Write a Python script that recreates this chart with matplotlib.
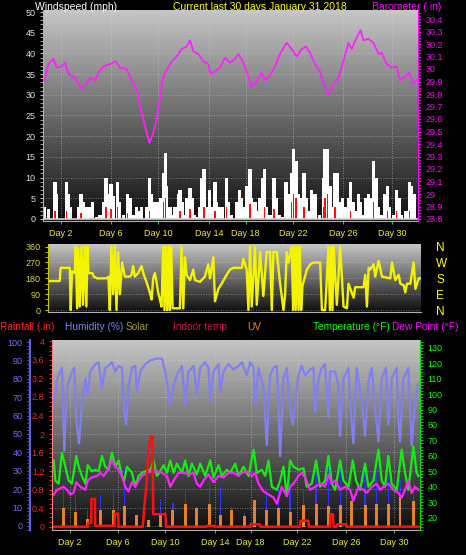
import numpy as np
import matplotlib
matplotlib.use("Agg")
import matplotlib.pyplot as plt
from matplotlib.colors import LinearSegmentedColormap
from matplotlib.ticker import MultipleLocator

plt.rcParams['font.family'] = ['Liberation Sans', 'DejaVu Sans']

# --------------------------------------------------
# data (time axis in days from the left edge of the chart)
# --------------------------------------------------

day_ticks = [1.45, 5.4, 9.2, 13.3, 16.2, 20.0, 24.0, 27.9]
day_labels = ["Day 2", "Day 6", "Day 10", "Day 14", "Day 18", "Day 22", "Day 26", "Day 30"]

baro_t = [0.11, 0.43, 0.83, 1.09, 1.49, 1.76, 2.03, 2.56, 3.09, 3.49, 3.76, 4.16, 4.43,
          4.83, 5.36, 5.84, 6.16, 6.69, 7.09, 7.49, 7.89, 8.51, 8.83, 9.09, 9.63, 9.89,
          10.29, 10.69, 11.09, 11.49, 11.76, 12.03, 12.43, 12.83, 13.23, 13.41, 13.76,
          14.16, 14.56, 14.96, 15.36, 15.63, 16.03, 16.43, 16.69, 17.09, 17.49, 17.76,
          18.16, 18.56, 18.96, 19.49, 19.89, 20.29, 20.69, 21.04, 21.36, 21.76, 22.16,
          22.56, 22.83, 23.23, 23.63, 24.03, 24.43, 24.69, 25.09, 25.41, 25.63, 26.03,
          26.43, 26.83, 27.09, 27.49, 27.89, 28.29, 28.56, 28.96, 29.31, 29.63, 29.89]
baro = [29.91, 30.04, 30.08, 30.01, 30.02, 30.05, 29.96, 29.93, 29.84, 29.88, 29.93, 29.91,
        29.97, 30.02, 30.04, 30.06, 30.01, 30.00, 29.91, 29.84, 29.65, 29.41, 29.49, 29.60,
        29.94, 29.99, 30.06, 30.10, 30.16, 30.18, 30.23, 30.14, 30.12, 30.06, 30.04, 29.96,
        29.98, 30.01, 30.09, 30.05, 30.08, 30.12, 30.05, 29.94, 29.86, 29.90, 29.97, 29.91,
        29.95, 30.02, 30.12, 30.21, 30.16, 30.10, 30.16, 30.18, 30.13, 30.04, 29.98, 29.86,
        29.79, 29.88, 29.93, 30.06, 30.21, 30.16, 30.25, 30.31, 30.23, 30.24, 30.21, 30.12,
        30.13, 30.04, 30.01, 30.02, 29.91, 29.94, 29.97, 29.88, 29.91]

gust_t = [0.11, 0.43, 0.96, 1.09, 1.49, 1.89, 2.03, 2.21, 2.83, 3.04, 3.23, 3.44, 3.63,
          3.76, 3.97, 4.29, 4.56, 4.83, 5.04, 5.23, 5.44, 5.63, 5.95, 6.11, 6.43, 6.77,
          6.96, 7.23, 7.49, 7.71, 7.89, 8.29, 8.51, 8.69, 8.96, 9.23, 9.44, 9.63, 9.79,
          9.89, 10.16, 10.43, 10.56, 10.83, 10.96, 11.17, 11.36, 11.49, 11.76, 11.97,
          12.11, 12.29, 12.51, 12.69, 12.88, 13.09, 13.31, 13.49, 13.76, 13.89, 14.11,
          14.37, 14.69, 14.83, 15.09, 15.49, 15.71, 15.89, 16.08, 16.29, 16.56, 16.69,
          16.96, 17.15, 17.36, 17.57, 17.71, 17.89, 18.16, 18.48, 18.69, 18.91, 19.17,
          19.44, 19.63, 19.89, 20.03, 20.24, 20.43, 20.69, 20.88, 21.04, 21.23, 21.49,
          21.76, 22.11, 22.43, 22.56, 22.77, 22.96, 23.23, 23.36, 23.55, 23.76, 23.97,
          24.16, 24.43, 24.61, 24.83, 25.04, 25.23, 25.41, 25.63, 25.84, 26.03, 26.21,
          26.43, 26.64, 26.83, 27.09, 27.36, 27.55, 27.71, 28.03, 28.29, 28.51, 28.69,
          29.04, 29.31, 29.49, 29.68]
gust = [3, 2.5, 9, 6, 0, 9, 6, 3, 3, 6, 4, 3, 2, 3, 4, 0.5, 1, 4, 10, 6, 8.5, 5.5, 9, 4, 1,
        6, 5, 1, 3, 2, 3, 3, 10, 6, 4, 4, 5, 11, 16, 8, 3, 1, 3, 6, 7, 4, 1, 5, 7.5, 5, 1,
        0.5, 3, 10, 12, 3, 7, 3, 9, 4, 3, 3, 10, 4, 1, 4, 7, 5, 3, 8, 12, 5, 4, 2, 5, 10, 12,
        3, 1, 10, 5, 1, 0.5, 9, 6, 11, 17, 14, 6, 5, 11, 5, 2, 7, 6, 1, 10, 17, 17, 8, 3, 11,
        11, 4, 5, 3, 5, 9, 4, 2, 6, 4, 1, 5, 6, 5, 14, 10, 3, 1, 6, 8, 3, 1, 7, 5, 1, 2, 9, 8, 6]

avg_t = [0.96, 1.89, 3.04, 5.04, 5.44, 5.95, 6.77, 8.51, 9.63, 9.79, 10.96, 11.76, 12.88,
         13.76, 14.69, 16.56, 17.71, 18.48, 19.89, 20.03, 20.24, 20.88, 22.43, 22.56,
         22.77, 23.36, 24.61, 26.43, 27.55, 28.29, 29.31]
avg = [2, 2, 1.5, 3, 2.5, 3, 1.5, 2, 4, 5, 2, 2.5, 3, 2, 3, 3.5, 3, 2.5, 4, 6, 5, 3, 3, 5,
       6, 3, 2, 4, 2, 2, 2]

dir_t = [0.13, 0.94, 1.02, 1.75, 1.83, 1.93, 2.15, 2.23, 2.34, 2.44, 2.55, 2.69, 2.82,
         2.95, 3.09, 3.17, 3.25, 3.57, 3.68, 3.95, 4.70, 4.86, 4.97, 5.10, 5.24, 5.37,
         5.51, 5.64, 5.78, 5.96, 6.18, 6.58, 6.72, 6.85, 6.98, 7.25, 7.52, 7.71, 7.92,
         8.19, 8.33, 8.46, 8.60, 8.73, 8.86, 9.00, 9.13, 9.27, 9.37, 9.48, 9.59, 9.70,
         9.80, 9.91, 10.02, 10.21, 10.61, 10.74, 10.88, 11.01, 11.15, 11.42, 11.68,
         11.82, 12.22, 12.62, 12.89, 13.03, 13.30, 13.43, 13.70, 13.97, 14.37, 14.64,
         14.91, 15.58, 15.71, 15.98, 16.12, 16.25, 16.38, 16.65, 16.79, 17.06, 17.32,
         17.59, 17.86, 18.00, 18.13, 18.40, 18.67, 18.94, 19.07, 19.20, 19.34, 19.61,
         19.71, 19.82, 19.92, 20.04, 20.15, 20.25, 20.36, 20.47, 20.82, 21.09, 21.35,
         21.89, 22.03, 22.29, 22.56, 22.67, 22.78, 22.88, 22.97, 23.23, 23.50, 23.77,
         24.04, 24.17, 24.58, 24.71, 25.38, 25.52, 25.65, 25.79, 25.92, 26.19, 26.32,
         26.59, 26.86, 27.53, 27.67, 27.93, 28.20, 28.34, 28.61, 28.74, 28.87, 29.14,
         29.41, 29.55, 29.81, 29.95]
wind_dir = [165, 165, 240, 240, 0, 220, 210, 360, 10, 350, 20, 360, 30, 360, 20, 360, 210,
            210, 190, 180, 180, 190, 0, 360, 90, 360, 0, 330, 90, 270, 190, 190, 200, 250,
            190, 210, 250, 200, 160, 100, 60, 180, 210, 160, 100, 60, 20, 360, 0, 360, 0,
            360, 0, 360, 10, 10, 10, 360, 10, 300, 200, 170, 230, 170, 160, 190, 260, 180,
            300, 50, 120, 150, 200, 230, 240, 240, 290, 230, 0, 360, 20, 360, 30, 330, 80,
            330, 330, 0, 330, 330, 150, 0, 90, 330, 270, 360, 0, 360, 0, 360, 0, 360, 0,
            140, 230, 260, 270, 270, 0, 0, 360, 0, 360, 0, 360, 30, 360, 20, 10, 150, 70,
            130, 130, 200, 20, 240, 230, 260, 190, 280, 190, 180, 270, 170, 200, 150, 140,
            100, 150, 150, 270, 120, 180, 180]

hum_t = [0.14, 0.41, 0.81, 1.00, 1.22, 1.63, 1.82, 1.98, 2.09, 2.20, 2.44, 2.72, 2.91,
         3.12, 3.53, 3.80, 4.07, 4.34, 4.62, 4.89, 5.16, 5.43, 5.70, 5.89, 6.05, 6.24,
         6.52, 6.79, 6.92, 7.20, 7.60, 8.01, 8.55, 8.96, 9.23, 9.64, 9.91, 10.18, 10.59,
         10.86, 11.13, 11.54, 11.81, 12.08, 12.49, 12.76, 12.90, 13.17, 13.58, 13.71,
         13.98, 14.39, 14.80, 15.21, 15.48, 15.88, 16.16, 16.43, 16.56, 16.83, 17.24,
         17.51, 17.78, 18.06, 18.33, 18.60, 18.87, 19.14, 19.41, 19.63, 19.82, 20.09,
         20.36, 20.64, 21.04, 21.31, 21.45, 21.72, 21.99, 22.26, 22.54, 22.67, 23.08,
         23.35, 23.49, 23.76, 24.17, 24.30, 24.57, 24.84, 25.25, 25.52, 25.79, 26.07,
         26.34, 26.61, 26.88, 27.23, 27.42, 27.69, 28.10, 28.23, 28.37, 28.64, 29.05,
         29.32, 29.59, 29.87]
humidity = [65, 80, 86, 41, 75, 84, 86, 58, 51, 45, 67, 80, 71, 84, 88, 89, 75, 86, 87, 89,
            84, 87, 86, 62, 55, 76, 86, 87, 73, 84, 88, 90, 91, 91, 84, 66, 76, 82, 87, 66,
            84, 87, 71, 86, 89, 86, 67, 84, 88, 73, 84, 88, 85, 87, 89, 82, 89, 86, 66, 86,
            75, 44, 82, 86, 87, 38, 80, 86, 64, 55, 67, 82, 87, 82, 85, 86, 62, 80, 86, 88,
            59, 84, 84, 76, 49, 80, 86, 67, 45, 86, 67, 49, 78, 86, 64, 46, 80, 86, 55, 80,
            86, 58, 46, 80, 86, 44, 67, 77]

temp_t = [0.14, 0.27, 0.54, 0.81, 1.09, 1.36, 1.63, 1.98, 2.17, 2.44, 2.72, 2.91, 3.26,
          3.53, 3.80, 4.07, 4.34, 4.62, 4.89, 5.16, 5.43, 5.70, 5.89, 6.11, 6.52, 6.79,
          7.06, 7.33, 7.60, 8.01, 8.28, 8.55, 8.82, 9.10, 9.37, 9.64, 9.91, 10.18, 10.59,
          10.86, 11.13, 11.40, 11.81, 12.08, 12.49, 12.90, 13.17, 13.58, 13.85, 14.25,
          14.53, 14.93, 15.21, 15.61, 16.02, 16.43, 16.70, 17.11, 17.38, 17.65, 17.92,
          18.33, 18.60, 18.87, 19.14, 19.41, 19.69, 20.09, 20.50, 20.77, 21.18, 21.53,
          21.86, 22.26, 22.54, 22.81, 23.08, 23.49, 23.76, 24.17, 24.52, 24.79, 25.12,
          25.52, 25.79, 26.20, 26.61, 26.88, 27.15, 27.42, 27.69, 28.10, 28.51, 28.78,
          29.05, 29.46, 29.73, 29.87]
temperature = [57, 44, 42, 62, 53, 44, 42, 60, 53, 47, 42, 54, 50, 51, 50, 60, 53, 51, 62,
               53, 57, 47, 44, 53, 49, 40, 47, 49, 50, 51, 57, 47, 50, 54, 49, 57, 49, 55,
               49, 57, 47, 55, 48, 55, 47, 57, 46, 54, 47, 51, 49, 55, 47, 53, 47, 64, 49,
               51, 47, 57, 40, 38, 44, 53, 34, 57, 53, 51, 52, 40, 42, 57, 40, 44, 60, 42,
               38, 57, 44, 40, 57, 44, 38, 55, 40, 44, 64, 44, 40, 60, 42, 38, 64, 49, 38,
               66, 49, 47]

dew_t = [0.14, 0.41, 0.68, 0.95, 1.22, 1.49, 1.76, 1.98, 2.31, 2.72, 2.91, 3.26, 3.67,
         3.94, 4.21, 4.48, 4.89, 5.16, 5.43, 5.70, 5.97, 6.24, 6.52, 6.79, 7.06, 7.33,
         7.74, 8.15, 8.55, 8.96, 9.37, 9.64, 9.91, 10.32, 10.73, 11.13, 11.54, 11.81,
         12.08, 12.35, 12.76, 13.17, 13.58, 13.98, 14.39, 14.80, 15.21, 15.48, 15.88,
         16.29, 16.56, 16.83, 17.24, 17.65, 18.06, 18.33, 18.73, 19.14, 19.41, 19.69,
         20.09, 20.36, 20.64, 21.04, 21.45, 21.86, 22.26, 22.54, 22.81, 23.08, 23.49,
         23.89, 24.30, 24.57, 24.98, 25.39, 25.66, 26.07, 26.47, 26.74, 27.02, 27.42,
         27.83, 28.23, 28.51, 28.78, 29.05, 29.32, 29.59, 29.87]
dew_point = [35, 38, 39, 40, 38, 35, 36, 43, 40, 38, 44, 46, 47, 49, 47, 50, 57, 53, 51,
             47, 40, 37, 43, 40, 44, 47, 49, 50, 50, 49, 47, 40, 44, 49, 49, 48, 49, 42,
             40, 44, 48, 43, 47, 46, 49, 49, 47, 49, 50, 47, 49, 42, 37, 35, 33, 29, 40,
             34, 40, 42, 47, 49, 46, 38, 40, 42, 40, 48, 42, 44, 38, 40, 38, 31, 40, 38,
             36, 40, 42, 38, 40, 42, 38, 36, 33, 38, 44, 36, 40, 38]

rain_t = [0.0, 2.9, 2.95, 3.2, 3.22, 3.5, 3.52, 5.1, 5.12, 5.4, 5.42, 7.4, 7.5, 7.7, 7.85,
          8.05, 8.2, 8.25, 9.25, 9.3, 12.6, 12.65, 13.2, 13.25, 16.15, 16.2, 16.95, 17.0,
          20.2, 20.25, 20.9, 20.95, 22.65, 22.7, 22.9, 22.95, 23.2, 23.25, 24.0, 24.05, 30.0]
rain = [0, 0, 0.08, 0.08, 0.6, 0.6, 0.02, 0.02, 0.28, 0.28, 0, 0, 0.36, 0.9, 1.6, 1.95,
        1.95, 0.27, 0.27, 0, 0, 0.02, 0.02, 0, 0, 0.05, 0.05, 0, 0, 0.13, 0.13, 0, 0, 0.27,
        0.27, 0, 0, 0.05, 0.05, 0, 0]

sun_t = [0.95, 1.90, 2.91, 3.94, 5.02, 5.89, 6.92, 7.87, 8.82, 9.86, 10.86, 11.81, 12.84,
         13.71, 14.66, 15.69, 16.51, 17.46, 18.46, 19.41, 20.50, 21.53, 22.54, 23.49,
         24.44, 25.52, 26.47, 27.42, 28.37, 29.46]
uv = [1.6, 1.3, 0.7, 1.45, 1.45, 1.75, 1.0, 0.6, 1.0, 1.45, 2.0, 1.6, 2.0, 1.0, 1.45, 0.9,
      2.3, 1.45, 1.6, 1.3, 1.9, 2.0, 1.75, 1.9, 2.2, 1.9, 2.0, 2.0, 2.6, 2.2]
solar = [217, 172, 90, 172, 199, 308, 63, 36, 150, 127, 199, 109, 290, 217, 109, 72, 145,
         200, 199, 235, 199, 290, 362, 362, 344, 344, 308, 272, 253, 272]

# --------------------------------------------------
# figure layout (pixel boxes of the original image)
# --------------------------------------------------

W, H = 466, 555
fig = plt.figure(figsize=(W / 100, H / 100), dpi=100, facecolor="black")


def box(left, top, right, bottom):
    return [left / W, 1 - bottom / H, (right - left) / W, (bottom - top) / H]


bg_cmap = LinearSegmentedColormap.from_list("bg", ["#0e0e0e", "#c6c6c6"])
grad = np.linspace(0, 1, 256).reshape(-1, 1)


def panel_background(ax, ylim):
    ax.imshow(grad, extent=[0, 30, ylim[0], ylim[1]], origin="lower", aspect="auto",
              cmap=bg_cmap, zorder=0)
    ax.set_xlim(0, 30)
    ax.set_ylim(*ylim)
    ax.set_facecolor("black")


def day_axis(ax):
    ax.set_xticks(day_ticks)
    ax.set_xticklabels(day_labels)
    ax.tick_params(axis="x", colors="#30c030", labelcolor="#f0f020", labelsize=6.5,
                   length=2, pad=4)
    ax.grid(axis="x", color="#d0d0d0", linestyle=(0, (1, 2)), linewidth=0.6, alpha=0.7)


small = 6.5

# ---------------- top panel: wind speed + barometer ----------------
ax1 = fig.add_axes(box(43, 10, 418, 221))
panel_background(ax1, (-0.5, 50.5))
ax1.bar(gust_t, gust, width=0.25, color="white", zorder=2)
ax1.bar(avg_t, avg, width=0.1, color="#ff1010", zorder=3)
ax1.axhline(0, color="#d0d0d0", linewidth=1.2, zorder=3)
ax1.set_yticks(range(0, 51, 5))
ax1.yaxis.set_minor_locator(MultipleLocator(1))
ax1.tick_params(axis="y", which="both", colors="#c0c0c0", labelcolor="#e0e0f0",
                labelsize=small, length=2)
ax1.grid(axis="y", color="#d0d0d0", linestyle=(0, (1, 2)), linewidth=0.6, alpha=0.6)
day_axis(ax1)
for s in ["top", "right"]:
    ax1.spines[s].set_visible(False)
ax1.spines["left"].set_color("#b0b0b0")
ax1.spines["bottom"].set_color("#b0b0b0")

ax1b = ax1.twinx()
ax1b.plot(baro_t, baro, color="#ff20ff", linewidth=1.3, zorder=4)
ax1b.set_ylim(28.784, 30.472)
baro_ticks = np.round(np.arange(28.8, 30.41, 0.1), 1)
ax1b.set_yticks(baro_ticks)
ax1b.set_yticklabels([f"{v:g}" for v in baro_ticks])
ax1b.yaxis.set_minor_locator(MultipleLocator(0.025))
ax1b.tick_params(axis="y", which="both", colors="#ff00ff", labelsize=small, length=2)
for s in ["top", "left", "bottom"]:
    ax1b.spines[s].set_visible(False)
ax1b.spines["right"].set_color("#ff00ff")

fig.text(35 / W, 1 - 7 / H, "Windspeed (mph)", color="white", fontsize=7.5, va="center")
fig.text(173 / W, 1 - 7 / H, "Current last 30 days January 31 2018", color="#ffff00",
         fontsize=7.5, va="center")
fig.text(372 / W, 1 - 7 / H, "Barometer (.in)", color="#ff00ff", fontsize=7.5, va="center")

# ---------------- middle panel: wind direction ----------------
ax2 = fig.add_axes(box(48, 244, 421, 312))
panel_background(ax2, (-11, 375))
ax2.plot(dir_t, wind_dir, color="#f4f400", linewidth=1.7, zorder=2)
ax2.set_yticks([0, 90, 180, 270, 360])
ax2.yaxis.set_minor_locator(MultipleLocator(30))
ax2.tick_params(axis="y", which="both", colors="#c8c800", labelcolor="#d8d840",
                labelsize=small, length=2)
ax2.set_xticks([])
ax2.grid(axis="y", color="#d0d0d0", linestyle=(0, (1, 2)), linewidth=0.6, alpha=0.6)
for s in ["top", "right"]:
    ax2.spines[s].set_visible(False)
ax2.spines["left"].set_color("#c8c800")
ax2.spines["bottom"].set_color("#b0b0b0")

ax2b = ax2.twinx()
ax2b.set_ylim(ax2.get_ylim())
ax2b.set_yticks([0, 90, 180, 270, 360])
ax2b.set_yticklabels(["N", "E", "S", "W", "N"])
ax2b.tick_params(axis="y", colors="#ffff00", labelsize=8.5, length=0, pad=11)
for s in ax2b.spines.values():
    s.set_visible(False)

legend_items = [(0, "Rainfall (.in)", "#ff2020"), (65, "Humidity (%)", "#8080ff"),
                (126, "Solar", "#a0a020"), (173, "Indoor temp", "#d01050"),
                (247, "UV", "#ff8020"), (313, "Temperature (\u00b0F)", "#00ff00"),
                (392, "Dew Point (\u00b0F)", "#ff00ff")]
for x, label, col in legend_items:
    fig.text(x / W, 1 - 327 / H, label, color=col, fontsize=7.3, va="center")

# ---------------- bottom panel: rain, humidity, temperature ----------------
ax3 = fig.add_axes(box(52, 340, 420, 530))
panel_background(ax3, (-18, 1013))
ax3.bar(sun_t, solar, width=0.1, color="#3030ff", zorder=2)
ax3.set_yticks([])
day_axis(ax3)
for s in ["top", "right", "left"]:
    ax3.spines[s].set_visible(False)
ax3.spines["bottom"].set_color("#b0b0b0")

ax_uv = ax3.twinx()
ax_uv.bar(sun_t, uv, width=0.24, color="#ff8a20", alpha=0.9, zorder=2)
ax_uv.set_ylim(-0.29, 16.2)
ax_uv.set_yticks([])
for s in ax_uv.spines.values():
    s.set_visible(False)

ax_h = ax3.twinx()
ax_h.plot(hum_t, humidity, color="#8080f0", linewidth=1.6)
ax_h.set_ylim(-2.2, 101.1)
ax_h.set_yticks(range(0, 101, 10))
ax_h.yaxis.set_ticks_position("left")
ax_h.yaxis.set_label_position("left")
ax_h.spines["left"].set_position(("outward", 22 * 0.72))
ax_h.spines["left"].set_visible(True)
ax_h.spines["left"].set_color("#6060e0")
ax_h.spines["left"].set_linewidth(1.5)
ax_h.yaxis.set_minor_locator(MultipleLocator(2))
ax_h.tick_params(axis="y", which="both", colors="#6060e0", labelcolor="#7070ff",
                 labelsize=small, length=2)
ax_h.grid(axis="y", color="#d0d0d0", linestyle=(0, (1, 2)), linewidth=0.6, alpha=0.6)
for s in ["top", "right", "bottom"]:
    ax_h.spines[s].set_visible(False)

ax_t = ax3.twinx()
ax_t.plot(temp_t, temperature, color="#10f010", linewidth=1.6)
ax_t.plot(dew_t, dew_point, color="#ff20ff", linewidth=1.6)
ax_t.set_ylim(12.0, 135.0)
ax_t.set_yticks(range(20, 131, 10))
ax_t.yaxis.set_minor_locator(MultipleLocator(2))
ax_t.tick_params(axis="y", which="both", colors="#00e000", labelcolor="#00ff00",
                 labelsize=small, length=2)
for s in ["top", "left", "bottom"]:
    ax_t.spines[s].set_visible(False)
ax_t.spines["right"].set_color("#00e000")

ax_r = ax3.twinx()
ax_r.plot(rain_t, rain, color="#ff1010", linewidth=1.8)
ax_r.set_ylim(-0.071, 4.03)
rain_ticks = np.round(np.arange(0, 4.01, 0.4), 1)
ax_r.set_yticks(rain_ticks)
ax_r.set_yticklabels([f"{v:g}" for v in rain_ticks])
ax_r.yaxis.set_ticks_position("left")
ax_r.yaxis.set_label_position("left")
ax_r.spines["left"].set_visible(True)
ax_r.spines["left"].set_color("#ff8080")
ax_r.spines["left"].set_linestyle((0, (2, 1)))
ax_r.yaxis.set_minor_locator(MultipleLocator(0.1))
ax_r.tick_params(axis="y", which="both", colors="#ff2020", labelsize=small, length=2)
for s in ["top", "right", "bottom"]:
    ax_r.spines[s].set_visible(False)

fig.savefig("out.png", dpi=100, facecolor="black")
